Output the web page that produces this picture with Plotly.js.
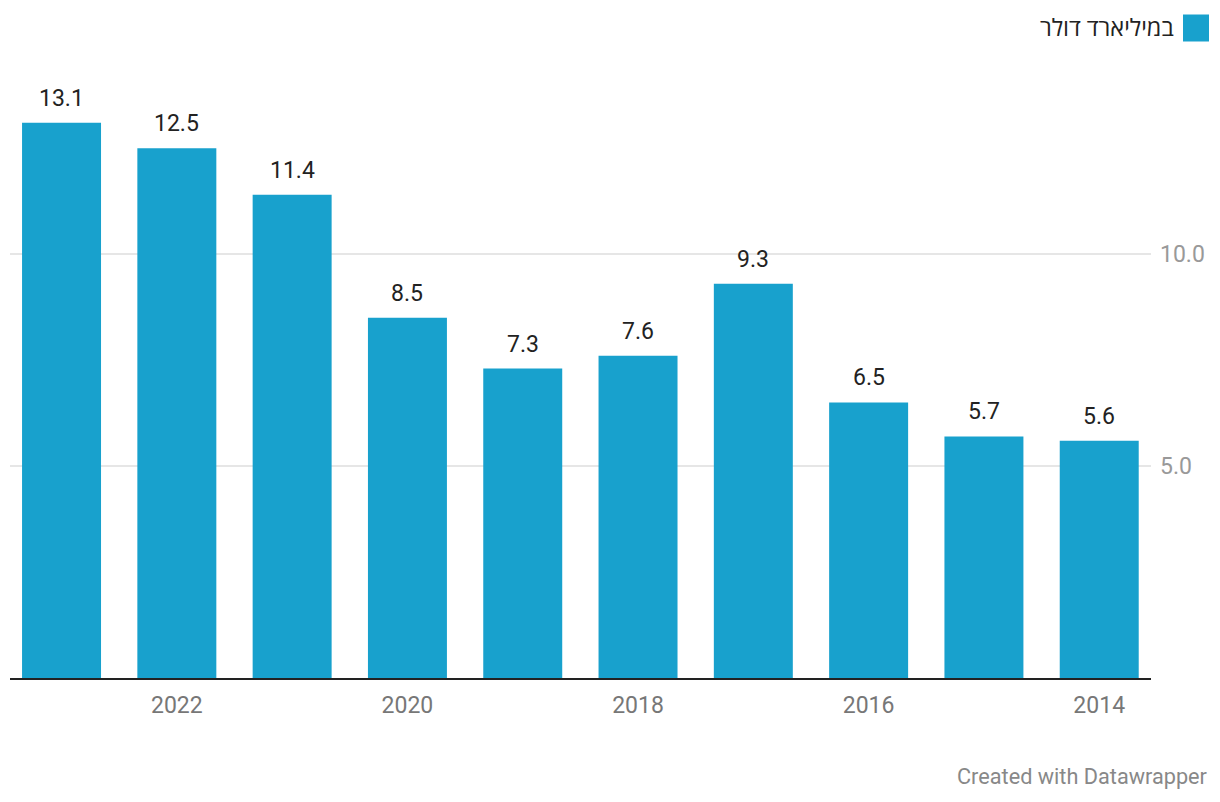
<!DOCTYPE html>
<html>
<head>
<meta charset="utf-8">
<script src="https://cdn.plot.ly/plotly-3.0.1.min.js"></script>
<style>
html,body{margin:0;padding:0;background:#fff;}
#chart{width:1220px;height:802px;}
</style>
</head>
<body>
<div id="chart"></div>
<script>
const years = [2023, 2022, 2021, 2020, 2019, 2018, 2017, 2016, 2015, 2014];
const values = [13.1, 12.5, 11.4, 8.5, 7.3, 7.6, 9.3, 6.5, 5.7, 5.6];
const valueLabels = ["13.1", "12.5", "11.4", "8.5", "7.3", "7.6", "9.3", "6.5", "5.7", "5.6"];
const xTickVals = [2022, 2020, 2018, 2016, 2014];
const xTickText = ["2022", "2020", "2018", "2016", "2014"];
const yTickVals = [5, 10];
const yTickText = ["5.0", "10.0"];
const seriesName = "במיליארד דולר";
const footerText = "Created with Datawrapper";

const barColor = "#18a1cd";
const fontFamily = "Roboto, 'Open Sans', sans-serif";

const trace = {
  type: "bar",
  x: years,
  y: values,
  marker: {color: barColor},
  width: 0.685,
  hoverinfo: "none",
  showlegend: false
};

const annotations = years.map((yr, i) => ({
  x: yr, y: values[i], xref: "x", yref: "y",
  text: valueLabels[i], showarrow: false,
  yanchor: "bottom", yshift: 9,
  font: {family: fontFamily, size: 23, color: "#222"}
}));

const layout = {
  width: 1220, height: 802,
  margin: {l: 10, r: 69, t: 60, b: 124},
  paper_bgcolor: "#fff", plot_bgcolor: "#fff",
  font: {family: fontFamily},
  xaxis: {
    range: [2023.447, 2013.551],
    tickvals: xTickVals, ticktext: xTickText,
    tickfont: {family: fontFamily, size: 23, color: "#777"},
    showgrid: false, zeroline: false,
    showline: true, linecolor: "#222", linewidth: 2,
    ticks: "", ticklabelstandoff: 5
  },
  yaxis: {
    range: [0, 14.58], side: "right",
    tickvals: yTickVals, ticktext: yTickText,
    tickfont: {family: fontFamily, size: 23, color: "#999"},
    showgrid: true, gridcolor: "#e6e6e6", gridwidth: 2,
    zeroline: false, showline: false, ticks: "",
    ticklabelstandoff: 8
  },
  shapes: [{
    type: "rect", xref: "paper", yref: "paper",
    x0: (1183 - 10) / 1141, x1: (1209 - 10) / 1141,
    y0: (677.5 - 41) / 618, y1: (677.5 - 14) / 618,
    fillcolor: barColor, line: {width: 0}
  }],
  annotations: annotations.concat([
    {
      xref: "paper", yref: "paper",
      x: (1176 - 10) / 1141, y: (677.5 - 27.5) / 618,
      xanchor: "right", yanchor: "middle",
      text: seriesName, showarrow: false,
      font: {family: fontFamily, size: 23.5, color: "#222"}
    },
    {
      xref: "paper", yref: "paper",
      x: (1210 - 10) / 1141, y: (677.5 - 776) / 618,
      xanchor: "right", yanchor: "middle",
      text: footerText, showarrow: false,
      font: {family: fontFamily, size: 21.7, color: "#888"}
    }
  ])
};

Plotly.newPlot("chart", [trace], layout, {displayModeBar: false, staticPlot: true});
</script>
</body>
</html>
